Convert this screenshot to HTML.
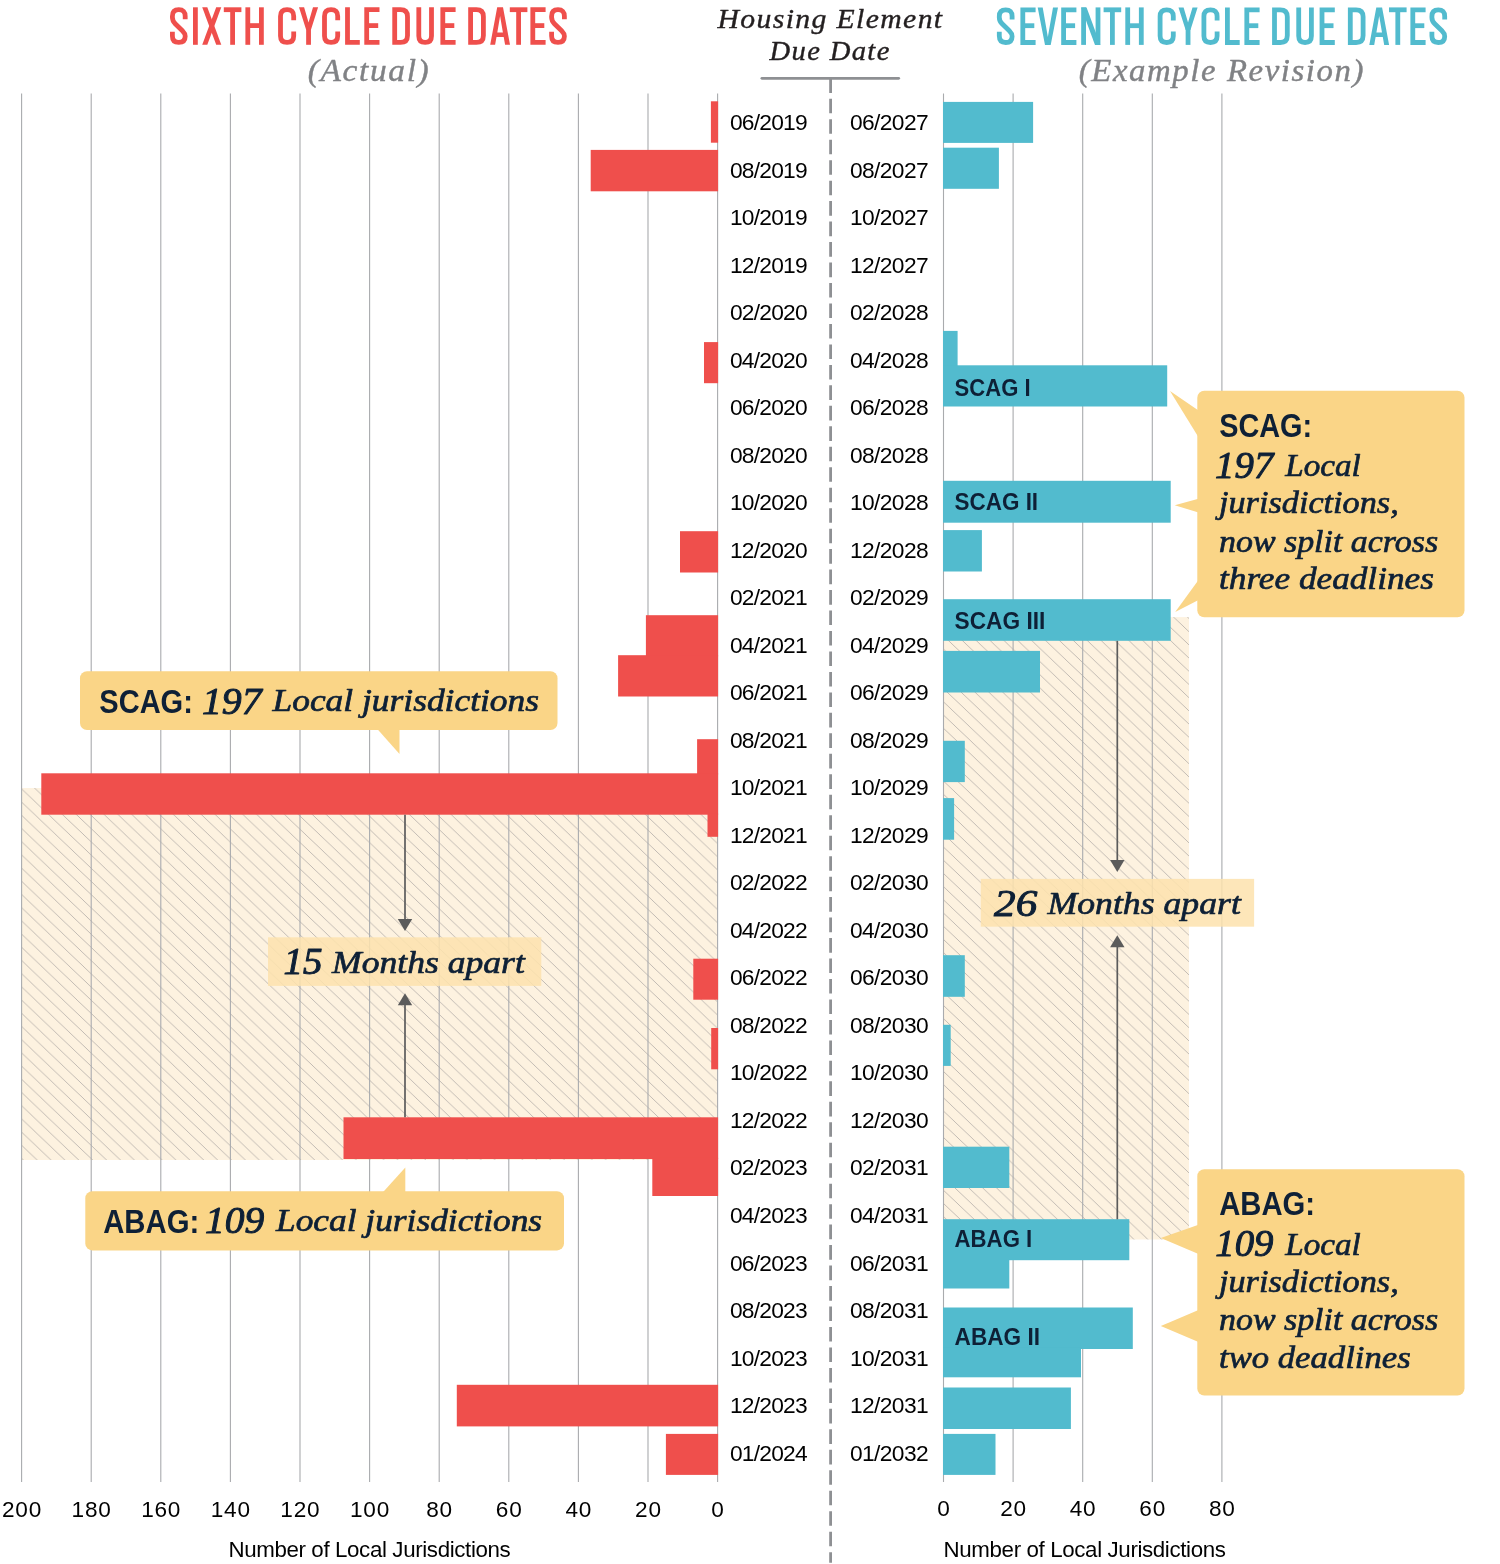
<!DOCTYPE html>
<html lang="en"><head><meta charset="utf-8"><title>Housing Element Due Dates</title>
<style>
html,body{margin:0;padding:0;background:#fff;}
body{width:1500px;height:1564px;overflow:hidden;}
svg{display:block;}
.sans{font-family:"Liberation Sans",sans-serif;}
.serif{font-family:"Liberation Serif",serif;font-style:italic;}
</style></head><body>
<svg width="1500" height="1564" viewBox="0 0 1500 1564">
<defs>
<pattern id="hatch" patternUnits="userSpaceOnUse" width="13.88" height="13.2" x="80" y="910.4">
<rect width="13.88" height="13.2" fill="#fdf2e0"/>
<path d="M-13.88,-13.2 L27.76,26.4 M0,-13.2 L27.76,13.2 M-13.88,0 L13.88,26.4" stroke="#b6b1ab" stroke-width="0.85" fill="none"/>
</pattern>
<pattern id="hatch2" patternUnits="userSpaceOnUse" width="13.88" height="13.2" x="1189" y="631.7">
<rect width="13.88" height="13.2" fill="#fdf2e0"/>
<path d="M-13.88,-13.2 L27.76,26.4 M0,-13.2 L27.76,13.2 M-13.88,0 L13.88,26.4" stroke="#b6b1ab" stroke-width="0.85" fill="none"/>
</pattern>
</defs>
<rect width="1500" height="1564" fill="#fff"/>
<g opacity="0.999">
<rect x="21.7" y="788" width="696" height="372" fill="url(#hatch)"/>
<rect x="943.5" y="617.1" width="245.5" height="622.4" fill="url(#hatch2)"/>
<path d="M717.6,93.5 V1482.0 M648.0,93.5 V1482.0 M578.4,93.5 V1482.0 M508.8,93.5 V1482.0 M439.2,93.5 V1482.0 M369.6,93.5 V1482.0 M300.0,93.5 V1482.0 M230.4,93.5 V1482.0 M160.8,93.5 V1482.0 M91.2,93.5 V1482.0 M21.6,93.5 V1482.0 M943.5,93.5 V1482.0 M1013.1,93.5 V1482.0 M1082.7,93.5 V1482.0 M1152.3,93.5 V1482.0 M1221.9,93.5 V1482.0" stroke="#a9abae" stroke-width="1.1" fill="none"/>
<rect x="710.9" y="101.3" width="7.2" height="41.4" fill="#ef4f4c"/>
<rect x="590.7" y="149.9" width="127.4" height="41.4" fill="#ef4f4c"/>
<rect x="704.0" y="342.1" width="14.1" height="41.1" fill="#ef4f4c"/>
<rect x="680.0" y="531.2" width="38.1" height="41.3" fill="#ef4f4c"/>
<rect x="645.9" y="615.2" width="72.2" height="41.2" fill="#ef4f4c"/>
<rect x="618.1" y="655.2" width="100.0" height="41.3" fill="#ef4f4c"/>
<rect x="697.1" y="739.2" width="21.0" height="35.3" fill="#ef4f4c"/>
<rect x="41.3" y="773.3" width="676.8" height="41.4" fill="#ef4f4c"/>
<rect x="707.5" y="813.5" width="10.6" height="23.3" fill="#ef4f4c"/>
<rect x="693.3" y="958.7" width="24.8" height="41.0" fill="#ef4f4c"/>
<rect x="711.2" y="1028.0" width="6.9" height="41.3" fill="#ef4f4c"/>
<rect x="343.5" y="1117.3" width="374.6" height="41.7" fill="#ef4f4c"/>
<rect x="652.3" y="1157.8" width="65.8" height="38.2" fill="#ef4f4c"/>
<rect x="456.8" y="1384.8" width="261.3" height="41.6" fill="#ef4f4c"/>
<rect x="665.9" y="1433.9" width="52.2" height="41.0" fill="#ef4f4c"/>
<rect x="943.0" y="101.9" width="90.1" height="41.0" fill="#52bbce"/>
<rect x="943.0" y="147.7" width="55.9" height="41.1" fill="#52bbce"/>
<rect x="943.0" y="330.9" width="14.6" height="35.6" fill="#52bbce"/>
<rect x="943.0" y="365.3" width="224.2" height="41.2" fill="#52bbce"/>
<rect x="943.0" y="480.8" width="227.7" height="41.9" fill="#52bbce"/>
<rect x="943.0" y="530.1" width="38.9" height="41.4" fill="#52bbce"/>
<rect x="943.0" y="599.2" width="227.7" height="41.6" fill="#52bbce"/>
<rect x="943.0" y="650.9" width="97.0" height="41.6" fill="#52bbce"/>
<rect x="943.0" y="740.8" width="21.8" height="41.3" fill="#52bbce"/>
<rect x="943.0" y="798.1" width="11.1" height="41.6" fill="#52bbce"/>
<rect x="943.0" y="955.2" width="21.8" height="41.6" fill="#52bbce"/>
<rect x="943.0" y="1024.8" width="7.7" height="41.1" fill="#52bbce"/>
<rect x="943.0" y="1146.7" width="66.3" height="41.3" fill="#52bbce"/>
<rect x="943.0" y="1219.2" width="186.3" height="41.0" fill="#52bbce"/>
<rect x="943.0" y="1259.0" width="66.3" height="29.5" fill="#52bbce"/>
<rect x="943.0" y="1307.5" width="189.8" height="41.5" fill="#52bbce"/>
<rect x="943.0" y="1347.8" width="138.0" height="29.5" fill="#52bbce"/>
<rect x="943.0" y="1387.5" width="127.9" height="41.5" fill="#52bbce"/>
<rect x="943.0" y="1433.9" width="52.5" height="41.0" fill="#52bbce"/>
<path d="M830.6,78.3 V1562.7" stroke="#8e9093" stroke-width="2.8" stroke-dasharray="14.6 5.87" fill="none"/>
<path d="M761.9,78.3 H898.7" stroke="#8e9093" stroke-width="2.8" stroke-linecap="round" fill="none"/>
<text x="717.5" y="27.5" class="serif" font-size="28" fill="#231f20" textLength="226.0" lengthAdjust="spacingAndGlyphs" letter-spacing="1.3" stroke="#231f20" stroke-width="0.4" stroke-linejoin="round">Housing Element</text>
<text x="769.5" y="59.6" class="serif" font-size="28" fill="#231f20" textLength="121.2" lengthAdjust="spacingAndGlyphs" letter-spacing="1.3" stroke="#231f20" stroke-width="0.4" stroke-linejoin="round">Due Date</text>
<defs>
<g id="gI"><path d="M2.4,0 V37.5" fill="none" stroke-width="4.8" stroke-linejoin="miter"/></g>
<g id="gL"><path d="M2.4,0 V35.1 H14.7" fill="none" stroke-width="4.8" stroke-linejoin="miter"/></g>
<g id="gE"><path d="M15.2,2.4 H2.4 V35.1 H15.2" fill="none" stroke-width="4.8" stroke-linejoin="miter"/><path d="M2.4,18.3 H13.9" fill="none" stroke-width="4.8" stroke-linejoin="miter"/></g>
<g id="gT"><path d="M0,2.4 H17.6" fill="none" stroke-width="4.8" stroke-linejoin="miter"/><path d="M8.8,2.4 V37.5" fill="none" stroke-width="4.8" stroke-linejoin="miter"/></g>
<g id="gH"><path d="M2.4,0 V37.5" fill="none" stroke-width="4.8" stroke-linejoin="miter"/><path d="M16,0 V37.5" fill="none" stroke-width="4.8" stroke-linejoin="miter"/><path d="M2.4,18.3 H16" fill="none" stroke-width="4.8" stroke-linejoin="miter"/></g>
<g id="gD"><path d="M2.4,2.4 H8.2 Q15.2,2.4 15.2,9.4 V28.1 Q15.2,35.1 8.2,35.1 H2.4 Z" fill="none" stroke-width="4.8" stroke-linejoin="miter"/></g>
<g id="gU"><path d="M2.4,0 V28.6 Q2.4,35.1 8.75,35.1 Q15.1,35.1 15.1,28.6 V0" fill="none" stroke-width="4.8" stroke-linejoin="miter"/></g>
<g id="gC"><path d="M15.6,13 V8.9 Q15.6,2.4 9,2.4 Q2.4,2.4 2.4,8.9 V28.6 Q2.4,35.1 9,35.1 Q15.6,35.1 15.6,28.6 V24.2" fill="none" stroke-width="4.8" stroke-linejoin="miter"/></g>
<g id="gS"><path d="M15.2,12 V8.9 Q15.2,2.4 8.8,2.4 Q2.4,2.4 2.4,8.9 V10 Q2.4,13.6 5.2,16.4 L12.4,23.4 Q15.2,26.2 15.2,29 Q15.2,35.1 8.8,35.1 Q2.4,35.1 2.4,28.6 V24.4" fill="none" stroke-width="4.8" stroke-linejoin="miter"/></g>
<g id="gX"><path d="M0,0 H5.1 L19.1,37.5 H14 Z" stroke="none" fill-rule="evenodd"/><path d="M14,0 H19.1 L5.1,37.5 H0 Z" stroke="none" fill-rule="evenodd"/></g>
<g id="gY"><path d="M9.55,19.5 V37.5" fill="none" stroke-width="4.8" stroke-linejoin="miter"/><path d="M0,0 H5.1 L9.55,15.2 L14,0 H19.1 L11.95,22.5 H7.15 Z" stroke="none" fill-rule="evenodd"/></g>
<g id="gA"><path d="M0,37.5 L7,0 H12.8 L19.8,37.5 H14.9 L13.5,29.6 H6.3 L4.9,37.5 Z M7.1,25.2 H12.7 L9.9,8.6 Z" stroke="none" fill-rule="evenodd"/></g>
<g id="gV"><path d="M0,0 H5 L10.15,29.5 L15.3,0 H20.3 L13,37.5 H7.3 Z" stroke="none" fill-rule="evenodd"/></g>
<g id="gN"><path d="M2.4,0 V37.5" fill="none" stroke-width="4.8" stroke-linejoin="miter"/><path d="M16.8,0 V37.5" fill="none" stroke-width="4.8" stroke-linejoin="miter"/><path d="M0,0 H5.4 L19.2,37.5 H13.8 Z" stroke="none" fill-rule="evenodd"/></g>
</defs>
<g fill="#ef4f4c" stroke="#ef4f4c">
<use href="#gS" x="170.0" y="7.3"/>
<use href="#gI" x="193.0" y="7.3"/>
<use href="#gX" x="202.2" y="7.3"/>
<use href="#gT" x="223.8" y="7.3"/>
<use href="#gH" x="245.4" y="7.3"/>
<use href="#gC" x="278.1" y="7.3"/>
<use href="#gY" x="299.0" y="7.3"/>
<use href="#gC" x="322.1" y="7.3"/>
<use href="#gL" x="345.1" y="7.3"/>
<use href="#gE" x="364.3" y="7.3"/>
<use href="#gD" x="392.3" y="7.3"/>
<use href="#gU" x="416.4" y="7.3"/>
<use href="#gE" x="440.4" y="7.3"/>
<use href="#gD" x="468.2" y="7.3"/>
<use href="#gA" x="490.2" y="7.3"/>
<use href="#gT" x="509.8" y="7.3"/>
<use href="#gE" x="530.4" y="7.3"/>
<use href="#gS" x="549.2" y="7.3"/>
</g>
<g fill="#52bbce" stroke="#52bbce">
<use href="#gS" x="996.9" y="7.4"/>
<use href="#gE" x="1020.4" y="7.4"/>
<use href="#gV" x="1037.7" y="7.4"/>
<use href="#gE" x="1061.2" y="7.4"/>
<use href="#gN" x="1081.2" y="7.4"/>
<use href="#gT" x="1103.6" y="7.4"/>
<use href="#gH" x="1125.3" y="7.4"/>
<use href="#gC" x="1157.7" y="7.4"/>
<use href="#gY" x="1178.5" y="7.4"/>
<use href="#gC" x="1201.5" y="7.4"/>
<use href="#gL" x="1225.0" y="7.4"/>
<use href="#gE" x="1244.4" y="7.4"/>
<use href="#gD" x="1272.1" y="7.4"/>
<use href="#gU" x="1296.3" y="7.4"/>
<use href="#gE" x="1319.6" y="7.4"/>
<use href="#gD" x="1347.9" y="7.4"/>
<use href="#gA" x="1369.3" y="7.4"/>
<use href="#gT" x="1389.0" y="7.4"/>
<use href="#gE" x="1410.4" y="7.4"/>
<use href="#gS" x="1429.5" y="7.4"/>
</g>
<text x="307.8" y="81.0" class="serif" font-size="31" fill="#808285" textLength="122.6" lengthAdjust="spacingAndGlyphs" letter-spacing="1.5" stroke="#808285" stroke-width="0.4" stroke-linejoin="round">(Actual)</text>
<text x="1078.8" y="80.8" class="serif" font-size="31" fill="#808285" textLength="286.2" lengthAdjust="spacingAndGlyphs" letter-spacing="1.5" stroke="#808285" stroke-width="0.4" stroke-linejoin="round">(Example Revision)</text>
<text x="729.9" y="130.0" class="sans" font-size="22.8" fill="#000" letter-spacing="-0.78">06/2019</text>
<text x="849.9" y="130.0" class="sans" font-size="22.8" fill="#000" letter-spacing="-0.6">06/2027</text>
<text x="729.9" y="177.5" class="sans" font-size="22.8" fill="#000" letter-spacing="-0.78">08/2019</text>
<text x="849.9" y="177.5" class="sans" font-size="22.8" fill="#000" letter-spacing="-0.6">08/2027</text>
<text x="729.9" y="225.0" class="sans" font-size="22.8" fill="#000" letter-spacing="-0.78">10/2019</text>
<text x="849.9" y="225.0" class="sans" font-size="22.8" fill="#000" letter-spacing="-0.6">10/2027</text>
<text x="729.9" y="272.6" class="sans" font-size="22.8" fill="#000" letter-spacing="-0.78">12/2019</text>
<text x="849.9" y="272.6" class="sans" font-size="22.8" fill="#000" letter-spacing="-0.6">12/2027</text>
<text x="729.9" y="320.1" class="sans" font-size="22.8" fill="#000" letter-spacing="-0.78">02/2020</text>
<text x="849.9" y="320.1" class="sans" font-size="22.8" fill="#000" letter-spacing="-0.6">02/2028</text>
<text x="729.9" y="367.6" class="sans" font-size="22.8" fill="#000" letter-spacing="-0.78">04/2020</text>
<text x="849.9" y="367.6" class="sans" font-size="22.8" fill="#000" letter-spacing="-0.6">04/2028</text>
<text x="729.9" y="415.1" class="sans" font-size="22.8" fill="#000" letter-spacing="-0.78">06/2020</text>
<text x="849.9" y="415.1" class="sans" font-size="22.8" fill="#000" letter-spacing="-0.6">06/2028</text>
<text x="729.9" y="462.6" class="sans" font-size="22.8" fill="#000" letter-spacing="-0.78">08/2020</text>
<text x="849.9" y="462.6" class="sans" font-size="22.8" fill="#000" letter-spacing="-0.6">08/2028</text>
<text x="729.9" y="510.2" class="sans" font-size="22.8" fill="#000" letter-spacing="-0.78">10/2020</text>
<text x="849.9" y="510.2" class="sans" font-size="22.8" fill="#000" letter-spacing="-0.6">10/2028</text>
<text x="729.9" y="557.7" class="sans" font-size="22.8" fill="#000" letter-spacing="-0.78">12/2020</text>
<text x="849.9" y="557.7" class="sans" font-size="22.8" fill="#000" letter-spacing="-0.6">12/2028</text>
<text x="729.9" y="605.2" class="sans" font-size="22.8" fill="#000" letter-spacing="-0.78">02/2021</text>
<text x="849.9" y="605.2" class="sans" font-size="22.8" fill="#000" letter-spacing="-0.6">02/2029</text>
<text x="729.9" y="652.7" class="sans" font-size="22.8" fill="#000" letter-spacing="-0.78">04/2021</text>
<text x="849.9" y="652.7" class="sans" font-size="22.8" fill="#000" letter-spacing="-0.6">04/2029</text>
<text x="729.9" y="700.2" class="sans" font-size="22.8" fill="#000" letter-spacing="-0.78">06/2021</text>
<text x="849.9" y="700.2" class="sans" font-size="22.8" fill="#000" letter-spacing="-0.6">06/2029</text>
<text x="729.9" y="747.8" class="sans" font-size="22.8" fill="#000" letter-spacing="-0.78">08/2021</text>
<text x="849.9" y="747.8" class="sans" font-size="22.8" fill="#000" letter-spacing="-0.6">08/2029</text>
<text x="729.9" y="795.3" class="sans" font-size="22.8" fill="#000" letter-spacing="-0.78">10/2021</text>
<text x="849.9" y="795.3" class="sans" font-size="22.8" fill="#000" letter-spacing="-0.6">10/2029</text>
<text x="729.9" y="842.8" class="sans" font-size="22.8" fill="#000" letter-spacing="-0.78">12/2021</text>
<text x="849.9" y="842.8" class="sans" font-size="22.8" fill="#000" letter-spacing="-0.6">12/2029</text>
<text x="729.9" y="890.3" class="sans" font-size="22.8" fill="#000" letter-spacing="-0.78">02/2022</text>
<text x="849.9" y="890.3" class="sans" font-size="22.8" fill="#000" letter-spacing="-0.6">02/2030</text>
<text x="729.9" y="937.8" class="sans" font-size="22.8" fill="#000" letter-spacing="-0.78">04/2022</text>
<text x="849.9" y="937.8" class="sans" font-size="22.8" fill="#000" letter-spacing="-0.6">04/2030</text>
<text x="729.9" y="985.4" class="sans" font-size="22.8" fill="#000" letter-spacing="-0.78">06/2022</text>
<text x="849.9" y="985.4" class="sans" font-size="22.8" fill="#000" letter-spacing="-0.6">06/2030</text>
<text x="729.9" y="1032.9" class="sans" font-size="22.8" fill="#000" letter-spacing="-0.78">08/2022</text>
<text x="849.9" y="1032.9" class="sans" font-size="22.8" fill="#000" letter-spacing="-0.6">08/2030</text>
<text x="729.9" y="1080.4" class="sans" font-size="22.8" fill="#000" letter-spacing="-0.78">10/2022</text>
<text x="849.9" y="1080.4" class="sans" font-size="22.8" fill="#000" letter-spacing="-0.6">10/2030</text>
<text x="729.9" y="1127.9" class="sans" font-size="22.8" fill="#000" letter-spacing="-0.78">12/2022</text>
<text x="849.9" y="1127.9" class="sans" font-size="22.8" fill="#000" letter-spacing="-0.6">12/2030</text>
<text x="729.9" y="1175.4" class="sans" font-size="22.8" fill="#000" letter-spacing="-0.78">02/2023</text>
<text x="849.9" y="1175.4" class="sans" font-size="22.8" fill="#000" letter-spacing="-0.6">02/2031</text>
<text x="729.9" y="1223.0" class="sans" font-size="22.8" fill="#000" letter-spacing="-0.78">04/2023</text>
<text x="849.9" y="1223.0" class="sans" font-size="22.8" fill="#000" letter-spacing="-0.6">04/2031</text>
<text x="729.9" y="1270.5" class="sans" font-size="22.8" fill="#000" letter-spacing="-0.78">06/2023</text>
<text x="849.9" y="1270.5" class="sans" font-size="22.8" fill="#000" letter-spacing="-0.6">06/2031</text>
<text x="729.9" y="1318.0" class="sans" font-size="22.8" fill="#000" letter-spacing="-0.78">08/2023</text>
<text x="849.9" y="1318.0" class="sans" font-size="22.8" fill="#000" letter-spacing="-0.6">08/2031</text>
<text x="729.9" y="1365.5" class="sans" font-size="22.8" fill="#000" letter-spacing="-0.78">10/2023</text>
<text x="849.9" y="1365.5" class="sans" font-size="22.8" fill="#000" letter-spacing="-0.6">10/2031</text>
<text x="729.9" y="1413.0" class="sans" font-size="22.8" fill="#000" letter-spacing="-0.78">12/2023</text>
<text x="849.9" y="1413.0" class="sans" font-size="22.8" fill="#000" letter-spacing="-0.6">12/2031</text>
<text x="729.9" y="1460.6" class="sans" font-size="22.8" fill="#000" letter-spacing="-0.78">01/2024</text>
<text x="849.9" y="1460.6" class="sans" font-size="22.8" fill="#000" letter-spacing="-0.6">01/2032</text>
<text x="718.0" y="1516.6" class="sans" font-size="22.6" fill="#000" text-anchor="middle" letter-spacing="0.8">0</text>
<text x="648.4" y="1516.6" class="sans" font-size="22.6" fill="#000" text-anchor="middle" letter-spacing="0.8">20</text>
<text x="578.8" y="1516.6" class="sans" font-size="22.6" fill="#000" text-anchor="middle" letter-spacing="0.8">40</text>
<text x="509.2" y="1516.6" class="sans" font-size="22.6" fill="#000" text-anchor="middle" letter-spacing="0.8">60</text>
<text x="439.6" y="1516.6" class="sans" font-size="22.6" fill="#000" text-anchor="middle" letter-spacing="0.8">80</text>
<text x="370.0" y="1516.6" class="sans" font-size="22.6" fill="#000" text-anchor="middle" letter-spacing="0.8">100</text>
<text x="300.4" y="1516.6" class="sans" font-size="22.6" fill="#000" text-anchor="middle" letter-spacing="0.8">120</text>
<text x="230.8" y="1516.6" class="sans" font-size="22.6" fill="#000" text-anchor="middle" letter-spacing="0.8">140</text>
<text x="161.2" y="1516.6" class="sans" font-size="22.6" fill="#000" text-anchor="middle" letter-spacing="0.8">160</text>
<text x="91.6" y="1516.6" class="sans" font-size="22.6" fill="#000" text-anchor="middle" letter-spacing="0.8">180</text>
<text x="22.0" y="1516.6" class="sans" font-size="22.6" fill="#000" text-anchor="middle" letter-spacing="0.8">200</text>
<text x="943.9" y="1516.4" class="sans" font-size="22.6" fill="#000" text-anchor="middle" letter-spacing="0.8">0</text>
<text x="1013.5" y="1516.4" class="sans" font-size="22.6" fill="#000" text-anchor="middle" letter-spacing="0.8">20</text>
<text x="1083.1" y="1516.4" class="sans" font-size="22.6" fill="#000" text-anchor="middle" letter-spacing="0.8">40</text>
<text x="1152.7" y="1516.4" class="sans" font-size="22.6" fill="#000" text-anchor="middle" letter-spacing="0.8">60</text>
<text x="1222.3" y="1516.4" class="sans" font-size="22.6" fill="#000" text-anchor="middle" letter-spacing="0.8">80</text>
<text x="228.4" y="1556.6" class="sans" font-size="22.3" fill="#000" textLength="282.3" lengthAdjust="spacing">Number of Local Jurisdictions</text>
<text x="943.6" y="1556.6" class="sans" font-size="22.3" fill="#000" textLength="282.3" lengthAdjust="spacing">Number of Local Jurisdictions</text>
<path d="M405.0,814.7 V921.1" stroke="#5b5b5b" stroke-width="1.7" fill="none"/>
<path d="M397.8,919.1 L412.2,919.1 L405.0,931.1 Z" fill="#5b5b5b"/>
<path d="M405.0,1117.3 V1003.3" stroke="#5b5b5b" stroke-width="1.7" fill="none"/>
<path d="M397.8,1005.3 L412.2,1005.3 L405.0,993.3 Z" fill="#5b5b5b"/>
<path d="M1117.3,640.8 V862.0" stroke="#5b5b5b" stroke-width="1.7" fill="none"/>
<path d="M1110.1,860.0 L1124.5,860.0 L1117.3,872.0 Z" fill="#5b5b5b"/>
<path d="M1117.3,1219.2 V945.2" stroke="#5b5b5b" stroke-width="1.7" fill="none"/>
<path d="M1110.1,947.2 L1124.5,947.2 L1117.3,935.2 Z" fill="#5b5b5b"/>
<rect x="268" y="937.3" width="273.3" height="48.6" fill="#fde2ad" fill-opacity="0.86"/>
<rect x="980.8" y="878.9" width="273.3" height="47.8" fill="#fde2ad" fill-opacity="0.86"/>
<text x="283.6" y="974.2" class="serif" font-size="38.5" fill="#0e2036" textLength="39.0" lengthAdjust="spacingAndGlyphs" stroke="#0e2036" stroke-width="1.0" stroke-linejoin="round">15</text>
<text x="332.0" y="972.5" class="serif" font-size="32" fill="#0e2036" textLength="192.8" lengthAdjust="spacingAndGlyphs" stroke="#0e2036" stroke-width="0.7" stroke-linejoin="round">Months apart</text>
<text x="994.1" y="916.0" class="serif" font-size="38.5" fill="#0e2036" textLength="43.2" lengthAdjust="spacingAndGlyphs" stroke="#0e2036" stroke-width="1.0" stroke-linejoin="round">26</text>
<text x="1047.5" y="913.9" class="serif" font-size="32" fill="#0e2036" textLength="193.3" lengthAdjust="spacingAndGlyphs" stroke="#0e2036" stroke-width="0.7" stroke-linejoin="round">Months apart</text>
<text x="954.6" y="396.0" class="sans" font-size="24" fill="#0e2036" font-weight="bold" textLength="76.0" lengthAdjust="spacingAndGlyphs">SCAG I</text>
<text x="954.6" y="510.1" class="sans" font-size="24" fill="#0e2036" font-weight="bold" textLength="83.5" lengthAdjust="spacingAndGlyphs">SCAG II</text>
<text x="954.6" y="629.3" class="sans" font-size="24" fill="#0e2036" font-weight="bold" textLength="90.7" lengthAdjust="spacingAndGlyphs">SCAG III</text>
<text x="954.6" y="1246.7" class="sans" font-size="24" fill="#0e2036" font-weight="bold" textLength="77.6" lengthAdjust="spacingAndGlyphs">ABAG I</text>
<text x="954.6" y="1344.5" class="sans" font-size="24" fill="#0e2036" font-weight="bold" textLength="85.4" lengthAdjust="spacingAndGlyphs">ABAG II</text>
<rect x="80.0" y="671.2" width="477.5" height="58.9" rx="7" ry="7" fill="#fad587"/>
<path d="M377.3,729.0 L399.5,729.0 L399.5,754.1 Z" fill="#fad587"/>
<text x="99.3" y="712.5" class="sans" font-size="32.5" fill="#0e2036" font-weight="bold" textLength="93.6" lengthAdjust="spacingAndGlyphs">SCAG:</text>
<text x="201.9" y="713.5" class="serif" font-size="38.5" fill="#0e2036" textLength="59.7" lengthAdjust="spacingAndGlyphs" stroke="#0e2036" stroke-width="1.0" stroke-linejoin="round">197</text>
<text x="272.5" y="710.7" class="serif" font-size="32" fill="#0e2036" textLength="266.5" lengthAdjust="spacingAndGlyphs" stroke="#0e2036" stroke-width="0.7" stroke-linejoin="round">Local jurisdictions</text>
<rect x="85.3" y="1191.2" width="478.7" height="59.2" rx="7" ry="7" fill="#fad587"/>
<path d="M382.7,1192.5 L405.3,1192.5 L405.3,1167.5 Z" fill="#fad587"/>
<text x="103.2" y="1232.5" class="sans" font-size="32.5" fill="#0e2036" font-weight="bold" textLength="96.0" lengthAdjust="spacingAndGlyphs">ABAG:</text>
<text x="205.0" y="1233.0" class="serif" font-size="38.5" fill="#0e2036" textLength="59.2" lengthAdjust="spacingAndGlyphs" stroke="#0e2036" stroke-width="1.0" stroke-linejoin="round">109</text>
<text x="276.0" y="1230.5" class="serif" font-size="32" fill="#0e2036" textLength="266.1" lengthAdjust="spacingAndGlyphs" stroke="#0e2036" stroke-width="0.7" stroke-linejoin="round">Local jurisdictions</text>
<rect x="1197.3" y="390.7" width="267.2" height="226.6" rx="7" ry="7" fill="#fad587"/>
<path d="M1170.0,391.0 L1198.5,410.5 L1198.5,437.3 Z" fill="#fad587"/>
<path d="M1174.7,505.3 L1198.5,498.7 L1198.5,512.5 Z" fill="#fad587"/>
<path d="M1175.2,612.0 L1198.5,580.0 L1198.5,600.0 Z" fill="#fad587"/>
<text x="1219.2" y="436.8" class="sans" font-size="32.5" fill="#0e2036" font-weight="bold" textLength="93.0" lengthAdjust="spacingAndGlyphs">SCAG:</text>
<text x="1215.1" y="477.5" class="serif" font-size="38.5" fill="#0e2036" textLength="58.2" lengthAdjust="spacingAndGlyphs" stroke="#0e2036" stroke-width="1.0" stroke-linejoin="round">197</text>
<text x="1285.3" y="476.0" class="serif" font-size="32" fill="#0e2036" textLength="75.5" lengthAdjust="spacingAndGlyphs" stroke="#0e2036" stroke-width="0.7" stroke-linejoin="round">Local</text>
<text x="1219.0" y="513.3" class="serif" font-size="32" fill="#0e2036" textLength="179.7" lengthAdjust="spacingAndGlyphs" stroke="#0e2036" stroke-width="0.7" stroke-linejoin="round">jurisdictions,</text>
<text x="1219.0" y="551.5" class="serif" font-size="32" fill="#0e2036" textLength="219.1" lengthAdjust="spacingAndGlyphs" stroke="#0e2036" stroke-width="0.7" stroke-linejoin="round">now split across</text>
<text x="1219.0" y="589.3" class="serif" font-size="32" fill="#0e2036" textLength="214.9" lengthAdjust="spacingAndGlyphs" stroke="#0e2036" stroke-width="0.7" stroke-linejoin="round">three deadlines</text>
<rect x="1197.3" y="1169.3" width="267.2" height="226.2" rx="7" ry="7" fill="#fad587"/>
<path d="M1160.8,1238.1 L1198.5,1224.8 L1198.5,1254.1 Z" fill="#fad587"/>
<path d="M1160.8,1326.1 L1198.5,1309.9 L1198.5,1342.1 Z" fill="#fad587"/>
<text x="1219.2" y="1214.7" class="sans" font-size="32.5" fill="#0e2036" font-weight="bold" textLength="95.8" lengthAdjust="spacingAndGlyphs">ABAG:</text>
<text x="1215.3" y="1255.5" class="serif" font-size="38.5" fill="#0e2036" textLength="58.2" lengthAdjust="spacingAndGlyphs" stroke="#0e2036" stroke-width="1.0" stroke-linejoin="round">109</text>
<text x="1285.3" y="1254.7" class="serif" font-size="32" fill="#0e2036" textLength="75.5" lengthAdjust="spacingAndGlyphs" stroke="#0e2036" stroke-width="0.7" stroke-linejoin="round">Local</text>
<text x="1219.0" y="1292.0" class="serif" font-size="32" fill="#0e2036" textLength="179.7" lengthAdjust="spacingAndGlyphs" stroke="#0e2036" stroke-width="0.7" stroke-linejoin="round">jurisdictions,</text>
<text x="1219.0" y="1329.9" class="serif" font-size="32" fill="#0e2036" textLength="219.1" lengthAdjust="spacingAndGlyphs" stroke="#0e2036" stroke-width="0.7" stroke-linejoin="round">now split across</text>
<text x="1219.0" y="1368.0" class="serif" font-size="32" fill="#0e2036" textLength="191.7" lengthAdjust="spacingAndGlyphs" stroke="#0e2036" stroke-width="0.7" stroke-linejoin="round">two deadlines</text>
</g>
</svg>
</body></html>
